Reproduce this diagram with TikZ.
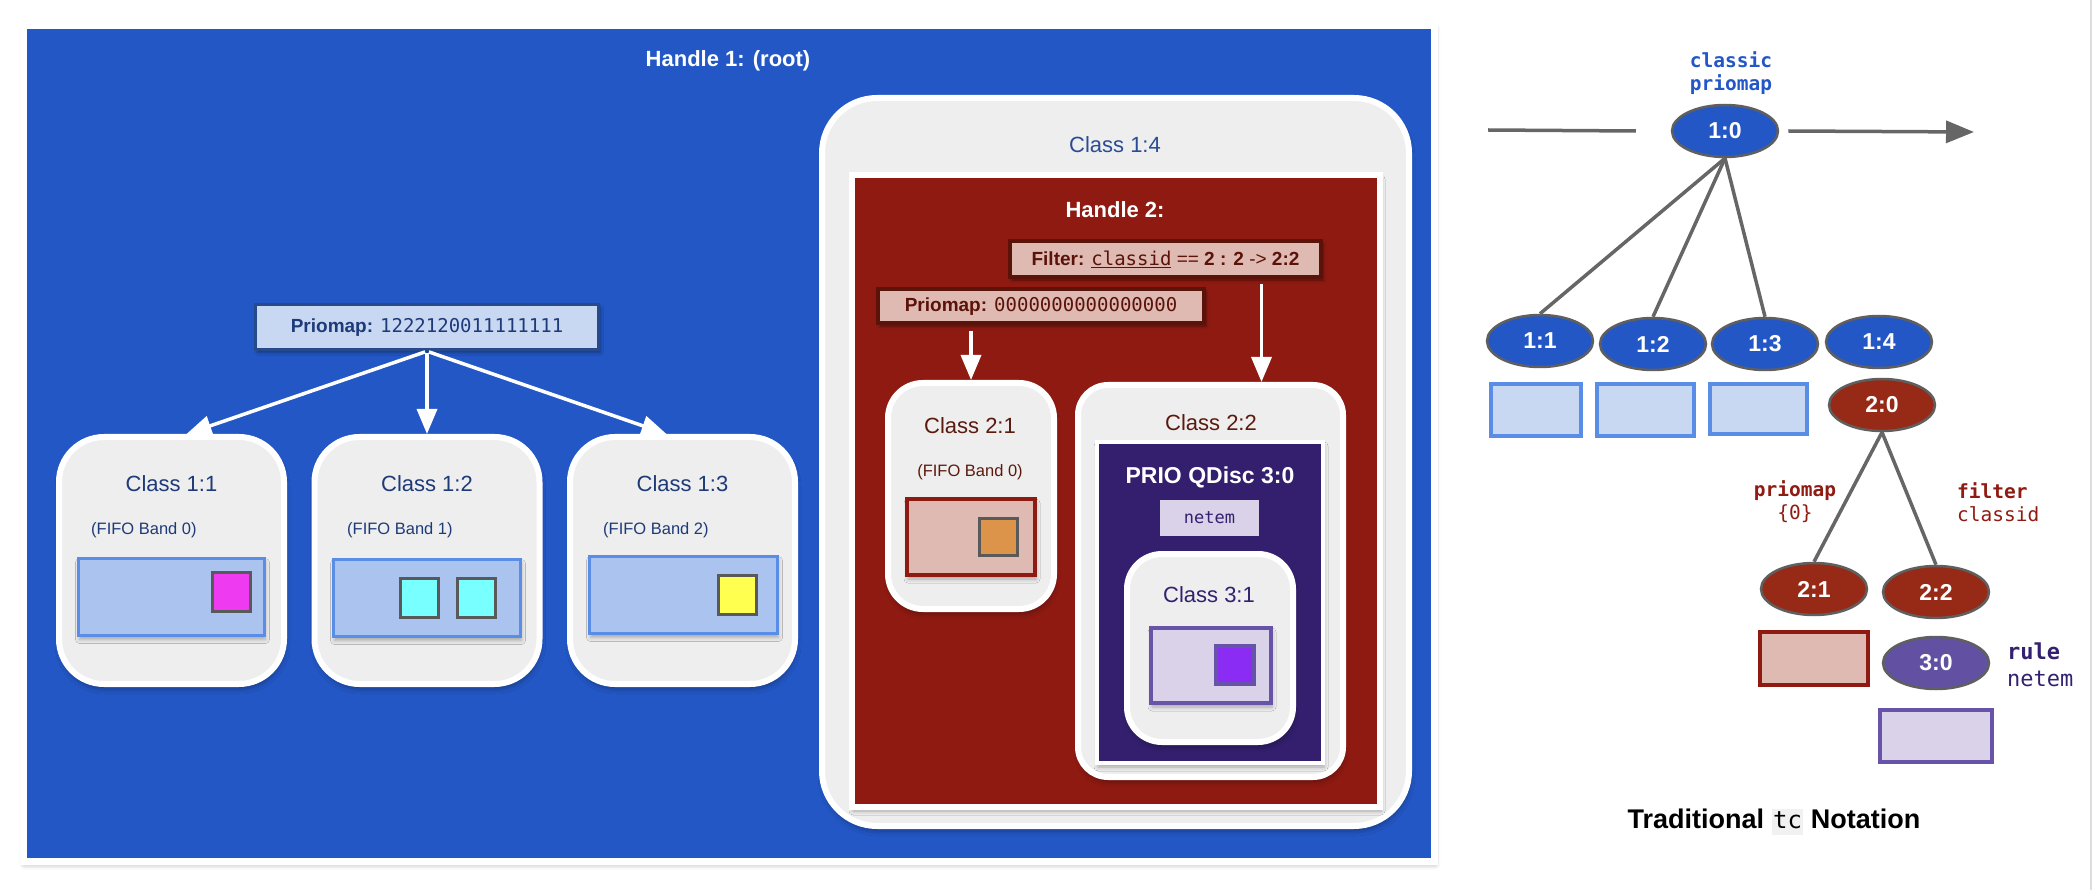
\documentclass[tikz,border=0pt]{standalone}
\usepackage{fontspec}
\setmainfont{Liberation Sans}
\setmonofont{DejaVu Sans Mono}
\usetikzlibrary{shapes.geometric,shadows.blur,arrows.meta}
\definecolor{rootblue}{HTML}{2357C5}
\definecolor{cardgray}{HTML}{EEEEEE}
\definecolor{navy}{HTML}{1E3A78}
\definecolor{c14blue}{HTML}{2A4C94}
\definecolor{mapfill}{HTML}{C9D8F2}
\definecolor{mapedge}{HTML}{264A8C}
\definecolor{qfill}{HTML}{ABC3EF}
\definecolor{qedge}{HTML}{5A8DE6}
\definecolor{pktgray}{HTML}{595959}
\definecolor{pktmag}{HTML}{EE3AF0}
\definecolor{pktcyan}{HTML}{78FFFF}
\definecolor{pktyel}{HTML}{FFFF4F}
\definecolor{h2red}{HTML}{8E1A12}
\definecolor{rose}{HTML}{DFBAB2}
\definecolor{maroon}{HTML}{5B1309}
\definecolor{brown}{HTML}{5B1A0E}
\definecolor{pktorange}{HTML}{DB9449}
\definecolor{qdpurple}{HTML}{331F6E}
\definecolor{lav}{HTML}{D9D2E9}
\definecolor{lavedge}{HTML}{6753A7}
\definecolor{pktviolet}{HTML}{8B2CF5}
\definecolor{ellblue}{HTML}{2457C6}
\definecolor{ellred}{HTML}{962A16}
\definecolor{ellpurple}{HTML}{6251A2}
\definecolor{ringgray}{HTML}{5F5F5F}
\definecolor{wiregray}{HTML}{666666}
\definecolor{labred}{HTML}{8F1B12}
\definecolor{labblue}{HTML}{2356C6}
\definecolor{labpurple}{HTML}{33206F}
\definecolor{tcbg}{HTML}{F1F1F1}
\definecolor{rimgray}{HTML}{DDDDDD}
\begin{document}
\begin{tikzpicture}[x=1pt,y=-1pt,
	frame/.style={draw=white,line width=7pt,fill=rootblue,inner sep=0pt,blur shadow={shadow xshift=1pt,shadow yshift=-3pt,shadow blur radius=5pt,shadow opacity=35}},
	card/.style={draw=white,line width=6pt,fill=cardgray,inner sep=0pt,rounded corners=#1,blur shadow={shadow xshift=1pt,shadow yshift=-5pt,shadow blur radius=5pt,shadow opacity=30}},
	panel/.style={draw=white,inner sep=0pt,blur shadow={shadow xshift=1pt,shadow yshift=-4pt,shadow blur radius=4pt,shadow opacity=30}},
	mapbox/.style={line width=3.5pt,inner sep=0pt,font=\fontsize{19}{23}\selectfont,blur shadow={shadow xshift=2pt,shadow yshift=-3pt,shadow blur radius=3pt,shadow opacity=40}},
	queue/.style={line width=3.5pt,inner sep=0pt,blur shadow={shadow xshift=1pt,shadow yshift=-4pt,shadow blur radius=4pt,shadow opacity=30}},
	pkt/.style={draw=pktgray,line width=3.5pt,inner sep=0pt,minimum width=38pt,minimum height=39pt},
	head/.style={text=white,font=\bfseries\fontsize{22}{26}\selectfont},
	lbl/.style={font=\fontsize{22}{26}\selectfont},
	band/.style={font=\fontsize{16.5}{20}\selectfont},
	flow/.style={draw=white,line width=3.5pt,-{Triangle[length=25pt,width=20pt]}},
	qd/.style={ellipse,draw=ringgray,line width=2.5pt,inner sep=0pt,minimum width=106pt,minimum height=52pt,text=white,font=\bfseries\fontsize{23}{27}\selectfont},
	wire/.style={draw=wiregray,line width=3.5pt},
	tcq/.style={line width=4pt,inner sep=0pt},
	note/.style={font=\ttfamily\fontsize{19.5}{23}\selectfont,align=center}]
	\useasboundingbox (0,0) rectangle (2094,890);
	\draw[rimgray,line width=1.5pt] (2091,0) -- (2091,890);

	% handle 1 (root)
	\node[frame,minimum width=1411pt,minimum height=836pt] (root) at (728.75,443.5) {};
	\node[head] (h1) at (728,61) {Handle 1: (root)};
	\node[mapbox,draw=mapedge,fill=mapfill,text=navy,minimum width=343pt,minimum height=45pt] (prio1) at (427,327) {\textbf{Priomap:} \texttt{1222120011111111}};

	\node[card=45pt,minimum width=225pt,minimum height=247pt] (c11) at (171.5,560.5) {};
	\node[card=45pt,minimum width=225pt,minimum height=247pt] (c12) at (427,560.5) {};
	\node[card=45pt,minimum width=225pt,minimum height=247pt] (c13) at (682.5,560.5) {};
	\node[lbl,text=navy] (t11) at (171.5,484) {Class 1:1};
	\node[lbl,text=navy] (t12) at (427,484) {Class 1:2};
	\node[lbl,text=navy] (t13) at (682.5,484) {Class 1:3};
	\node[band,text=navy,anchor=west,inner sep=0pt] (b11) at (91,530) {(FIFO Band 0)};
	\node[band,text=navy,anchor=west,inner sep=0pt] (b12) at (347,530) {(FIFO Band 1)};
	\node[band,text=navy,anchor=west,inner sep=0pt] (b13) at (603,530) {(FIFO Band 2)};
	\node[queue,draw=qedge,fill=qfill,minimum width=186pt,minimum height=77pt] (q11) at (171.5,597) {};
	\node[queue,draw=qedge,fill=qfill,minimum width=187pt,minimum height=77pt] (q12) at (427,598) {};
	\node[queue,draw=qedge,fill=qfill,minimum width=188pt,minimum height=77pt] (q13) at (683.5,595) {};
	\node[pkt,fill=pktmag] (p11) at (231.5,592) {};
	\node[pkt,fill=pktcyan] (p12a) at (419.5,598) {};
	\node[pkt,fill=pktcyan] (p12b) at (476.5,598) {};
	\node[pkt,fill=pktyel] (p13) at (737.5,595) {};

	\draw[flow,shorten <=2pt] (prio1.south) -- ([xshift=15pt]c11.north);
	\draw[flow,shorten <=2pt] (prio1.south) -- (c12.north);
	\draw[flow,shorten <=2pt] (prio1.south) -- ([xshift=-16pt]c13.north);

	% class 1:4 with handle 2
	\node[card=55pt,minimum width=587pt,minimum height=728pt] (c14) at (1115.5,462) {};
	\node[lbl,text=c14blue] (t14) at (1115,145) {Class 1:4};
	\node[panel,line width=6pt,fill=h2red,minimum width=528pt,minimum height=632pt] (h2) at (1116,491) {};
	\node[head] (h2t) at (1115,210) {Handle 2:};
	\node[mapbox,draw=maroon,fill=rose,text=maroon,line width=4pt,minimum width=311pt,minimum height=36pt] (filt) at (1165.5,259) {\textbf{Filter:} \underline{\texttt{classid}} == \textbf{2 : 2} -> \textbf{2:2}};
	\node[mapbox,draw=maroon,fill=rose,text=maroon,line width=4pt,minimum width=326pt,minimum height=34pt] (prio2) at (1041,306) {\textbf{Priomap:} \texttt{0000000000000000}};

	\node[card=35pt,minimum width=166pt,minimum height=226pt] (c21) at (971,496) {};
	\node[lbl,text=brown] (t21) at (970,426) {Class 2:1};
	\node[band,text=brown] (b21) at (970,472) {(FIFO Band 0)};
	\node[queue,draw=h2red,fill=rose,line width=4pt,minimum width=128pt,minimum height=76pt] (q21) at (971,537) {};
	\node[pkt,fill=pktorange,minimum height=37pt] (p21) at (998.5,537) {};

	\node[card=30pt,minimum width=265pt,minimum height=392pt] (c22) at (1210.5,581) {};
	\node[lbl,text=brown] (t22) at (1211,423) {Class 2:2};
	\node[panel,line width=4pt,fill=qdpurple,minimum width=226pt,minimum height=321pt] (qd3) at (1210,602.5) {};
	\node[text=white,font=\bfseries\fontsize{23}{27}\selectfont] (qd3t) at (1210,477) {PRIO QDisc 3:0};
	\node[fill=lav,text=labpurple,inner sep=0pt,minimum width=99pt,minimum height=36pt,font=\ttfamily\fontsize{17}{20}\selectfont] (nete) at (1209.5,518) {netem};
	\node[card=35pt,minimum width=166pt,minimum height=188pt] (c31) at (1210,648) {};
	\node[lbl,text=labpurple] (t31) at (1209,595) {Class 3:1};
	\node[queue,draw=lavedge,fill=lav,line width=4pt,minimum width=120pt,minimum height=75pt] (q31) at (1211,665.5) {};
	\node[pkt,draw=lavedge,fill=pktviolet,minimum height=38pt] (p31) at (1235,665) {};

	\draw[flow,shorten <=6pt] (prio2.south -| c21.north) -- (c21.north);
	\draw[flow,shorten <=5pt] ([xshift=96pt]filt.south) -- ([xshift=51pt]c22.north);

	% traditional tc notation
	\node[note,text=labblue,font=\ttfamily\bfseries\fontsize{19.5}{23}\selectfont] (cls) at (1731,73) {classic\\priomap};
	\coordinate (src) at (1488,130);
	\coordinate (sink) at (1974,132);
	\node[qd,fill=ellblue] (n10) at (1725,131) {1:0};
	\node[qd,fill=ellblue] (n11) at (1540,341) {1:1};
	\node[qd,fill=ellblue] (n12) at (1653,344) {1:2};
	\node[qd,fill=ellblue] (n13) at (1765,344) {1:3};
	\node[qd,fill=ellblue] (n14) at (1879,342) {1:4};
	\node[qd,fill=ellred] (n20) at (1882,405) {2:0};
	\node[qd,fill=ellred] (n21) at (1814,589) {2:1};
	\node[qd,fill=ellred] (n22) at (1936,592) {2:2};
	\node[qd,fill=ellpurple] (n30) at (1936,663) {3:0};
	\node[tcq,draw=qedge,fill=mapfill,minimum width=90pt,minimum height=52pt] (r11) at (1536,410) {};
	\node[tcq,draw=qedge,fill=mapfill,minimum width=97pt,minimum height=52pt] (r12) at (1645.5,410) {};
	\node[tcq,draw=qedge,fill=mapfill,minimum width=97pt,minimum height=50pt] (r13) at (1758.5,409) {};
	\node[tcq,draw=h2red,fill=rose,minimum width=108pt,minimum height=53pt] (r21) at (1814,658.5) {};
	\node[tcq,draw=lavedge,fill=lav,minimum width=112pt,minimum height=52pt] (r30) at (1936,736) {};

	\draw[wire] (src) -- ([xshift=-35pt]n10.west);
	\draw[wire,-{Triangle[length=28pt,width=22pt]}] ([xshift=9pt]n10.east) -- (sink);
	\draw[wire] (n10.south) -- (n11.north);
	\draw[wire] (n10.south) -- (n12.north);
	\draw[wire] (n10.south) -- (n13.north);
	\draw[wire] (n20.south) -- (n21.north);
	\draw[wire] (n20.south) -- (n22.north);

	\node[note,text=labred] (pmap) at (1795,502) {\textbf{priomap}\\\{0\}};
	\node[note,text=labred,align=left,anchor=west,inner sep=0pt] (filtr) at (1957,502) {\textbf{filter}\\classid};
	\node[note,text=labpurple,align=left,anchor=west,inner sep=0pt,font=\ttfamily\fontsize{22}{27}\selectfont] (rule) at (2007,665) {\textbf{rule}\\netem};
	\node[font=\bfseries\fontsize{27}{32}\selectfont] (tcnote) at (1774,822) {Traditional {\setlength{\fboxsep}{1.5pt}\colorbox{tcbg}{\mdseries\ttfamily\fontsize{24}{28}\selectfont\vphantom{Tg}tc}} Notation};
\end{tikzpicture}
\end{document}
